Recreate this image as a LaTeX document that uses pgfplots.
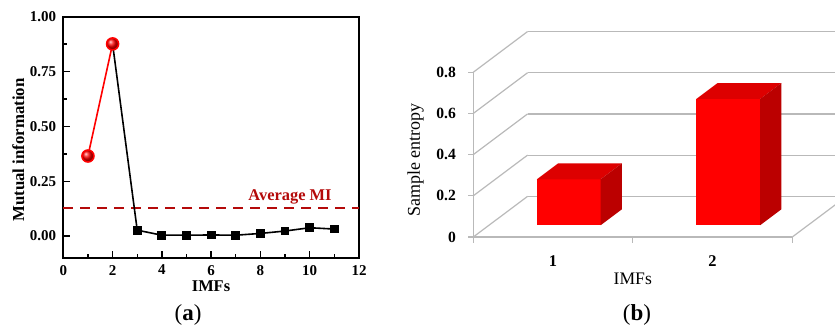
\documentclass[border=0pt]{standalone}
\usepackage{fontspec}
\setmainfont{Liberation Serif}
\usepackage{pgfplots}
\pgfplotsset{compat=1.18}
\definecolor{avgred}{RGB}{180,10,10}
\definecolor{gridgray}{RGB}{185,185,185}
\definecolor{frontred}{RGB}{255,0,0}
\definecolor{topred}{RGB}{221,0,0}
\definecolor{sidered}{RGB}{187,0,0}
% a 3D bar: left x, right x, height (value)
\newcommand{\threedbar}[3]{%
  \addplot3[fill=frontred, draw=none] coordinates {(#1,0.29,0) (#2,0.29,0) (#2,0.29,#3) (#1,0.29,#3)};
  \addplot3[fill=topred, draw=none] coordinates {(#1,0.29,#3) (#2,0.29,#3) (#2,0.68,#3) (#1,0.68,#3)};
  \addplot3[fill=sidered, draw=none] coordinates {(#2,0.29,0) (#2,0.68,0) (#2,0.68,#3) (#2,0.29,#3)};
}
\begin{document}
\begin{tikzpicture}
\clip (0,0) rectangle (417.5pt,164.5pt);
% ---------------- (a) ----------------
\begin{axis}[
  at={(31.65pt,35.5pt)}, anchor=south west,
  scale only axis, width=147.85pt, height=120.65pt,
  xmin=0, xmax=12, ymin=-0.1, ymax=1.0,
  xtick={0,2,...,12}, minor xtick={1,3,...,11},
  ytick={0,0.25,0.5,0.75,1}, minor ytick={0.125,0.375,0.625,0.875},
  tick align=inside, xtick pos=bottom, ytick pos=left,
  major tick length=3.5pt, minor tick length=2pt,
  axis line style={line width=0.9pt},
  tick style={black, line width=0.7pt},
  /pgf/number format/assume math mode=true,
  tick label style={font=\fontsize{7.5}{8}\selectfont\bfseries},
  yticklabel style={/pgf/number format/.cd, fixed, fixed zerofill, precision=2},
  clip=false,
]
\addplot[avgred, line width=1pt, dash pattern=on 5pt off 3.5pt] coordinates {(0,0.127) (12,0.127)};
\addplot[black, line width=0.8pt, mark=square*, mark size=1.8pt,
  mark indices={2,3,4,5,6,7,8,9,10}] coordinates {
  (2,0.876) (3,0.027) (4,0.004) (5,0.004) (6,0.005) (7,0.004)
  (8,0.012) (9,0.023) (10,0.038) (11,0.032)};
\addplot[red, line width=0.8pt, mark=ball, ball color=red, mark size=3pt] coordinates {(1,0.365) (2,0.876)};
\node[avgred, font=\fontsize{8.2}{9}\selectfont\bfseries] at (axis cs:9.2,0.179) {Average MI};
\end{axis}
\node[font=\fontsize{8.2}{9}\selectfont\bfseries] at (105.5pt,21.2pt) {IMFs};
\node[rotate=90, font=\fontsize{8.4}{9}\selectfont\bfseries] at (9.2pt,89.5pt) {Mutual information};
\node[font=\fontsize{11.5}{13}\selectfont] at (94pt,7pt) {(\textbf{a})};
% ---------------- (b) ----------------
\begin{axis}[
  at={(236.65pt,46pt)}, anchor=origin,
  x={(79.75pt,0pt)}, y={(27.15pt,20.35pt)}, z={(0pt,103pt)},
  xmin=0, xmax=2, ymin=0, ymax=1, zmin=0, zmax=0.8,
  hide axis, clip=false,
]
\pgfplotsinvokeforeach{0,0.2,0.4,0.6,0.8}{
  \addplot3[gridgray, line width=0.6pt] coordinates {(0,1,#1) (2,1,#1)};
  \addplot3[gridgray, line width=0.6pt] coordinates {(0,0,#1) (0,1,#1)};
  \draw[gridgray, line width=0.6pt] (axis cs:0,0,#1) -- ++(-2.5pt,0pt);
  \node[anchor=east, inner sep=0pt, xshift=-8.5pt, font=\fontsize{7.8}{9}\selectfont\bfseries] at (axis cs:0,0,#1) {#1};
}
\addplot3[gridgray, line width=0.6pt] coordinates {(0,0,0) (0,0,0.8)};
\addplot3[gridgray, line width=0.6pt] coordinates {(0,0,0) (2,0,0)};
\addplot3[gridgray, line width=0.6pt] coordinates {(2,0,0) (2,1,0)};
\pgfplotsinvokeforeach{0,1,2}{
  \draw[gridgray, line width=0.6pt] (axis cs:#1,0,0) -- ++(0pt,-3pt);
}
\threedbar{0.3}{0.7}{0.223}
\threedbar{1.3}{1.7}{0.613}
\node[yshift=-12pt, font=\fontsize{8.2}{9}\selectfont\bfseries] at (axis cs:0.5,0,0) {1};
\node[yshift=-12pt, font=\fontsize{8.2}{9}\selectfont\bfseries] at (axis cs:1.5,0,0) {2};
\node[yshift=-20.7pt, font=\fontsize{8.8}{10}\selectfont] at (axis cs:1,0,0) {IMFs};
\end{axis}
\node[rotate=90, font=\fontsize{9}{10}\selectfont] at (207.8pt,84.5pt) {Sample entropy};
\node[font=\fontsize{11.5}{13}\selectfont] at (318.5pt,7pt) {(\textbf{b})};
\end{tikzpicture}
\end{document}
